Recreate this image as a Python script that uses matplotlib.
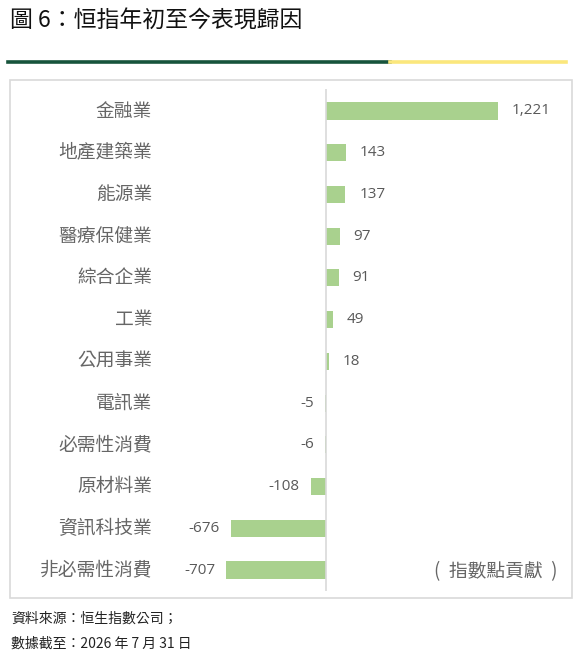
import matplotlib
matplotlib.use("Agg")
import matplotlib.pyplot as plt
from matplotlib.patches import Rectangle
from matplotlib.lines import Line2D

plt.rcParams['font.family'] = ['Noto Sans CJK TC', 'DejaVu Sans']

sectors = ['金融業', '地產建築業', '能源業', '醫療保健業', '綜合企業', '工業',
           '公用事業', '電訊業', '必需性消費', '原材料業', '資訊科技業', '非必需性消費']
points = [1221, 143, 137, 97, 91, 49, 18, -5, -6, -108, -676, -707]

W, H = 584, 660
fig = plt.figure(figsize=(W / 100, H / 100), dpi=100)

def fx(px):
    return px / W

def fy(py):
    return 1 - py / H

# title and header rule
fig.text(fx(10), fy(21), '圖 6：恒指年初至今表現歸因', fontsize=16.5, color='#111111',
         va='center', ha='left', fontweight='medium')
fig.add_artist(Line2D([fx(8), fx(390)], [fy(62), fy(62)], color='#17543c', lw=2.6))
fig.add_artist(Line2D([fx(390), fx(566)], [fy(62), fy(62)], color='#fbe77c', lw=2.6))

# chart frame
fig.add_artist(Rectangle((fx(10), fy(598)), fx(562), 518 / H, transform=fig.transFigure,
                         fill=False, edgecolor='#d9d9d9', lw=1.2))

# axes: zero at x=326, ~0.141 px per point
left_px, right_px = 160, 560
top_px, bot_px = 89, 591
scale = 0.1410
ax = fig.add_axes([fx(left_px), fy(bot_px), (right_px - left_px) / W, (bot_px - top_px) / H])
ax.set_xlim(-(326 - left_px) / scale, (right_px - 326) / scale)
step = 41.73
ax.set_ylim((bot_px - 111) / step, (top_px - 111) / step)
ax.axis('off')

y = list(range(len(sectors)))
ax.barh(y, points, height=0.41, color='#a9d18e')
ax.axvline(0, color='#d9d9d9', lw=1.2)

num_font = ['Open Sans', 'DejaVu Sans']
for i, (name, v) in enumerate(zip(sectors, points)):
    fig.text(fx(152), fy(111 + step * i), name, fontsize=13.5, color='#666666',
             ha='right', va='center', fontweight='light')
    label = f'{v:,}'
    if v >= 0:
        ax.annotate(label, (v, i), xytext=(10, 0), textcoords='offset points',
                    ha='left', va='center', fontsize=11, color='#595959',
                    family=num_font)
    else:
        ax.annotate(label, (v, i), xytext=(-8, 0), textcoords='offset points',
                    ha='right', va='center', fontsize=11, color='#595959',
                    family=num_font)

fig.text(fx(557), fy(572), '(  指數點貢獻  )', fontsize=13.5, color='#666666',
         ha='right', va='center', fontweight='light')

# footer
fig.text(fx(11), fy(619), '資料來源：恒生指數公司；', fontsize=10, color='#222222',
         ha='left', va='center')
fig.text(fx(11), fy(644), '數據截至：2026 年 7 月 31 日', fontsize=10, color='#222222',
         ha='left', va='center')

fig.savefig('out.png', dpi=100, facecolor='white')
